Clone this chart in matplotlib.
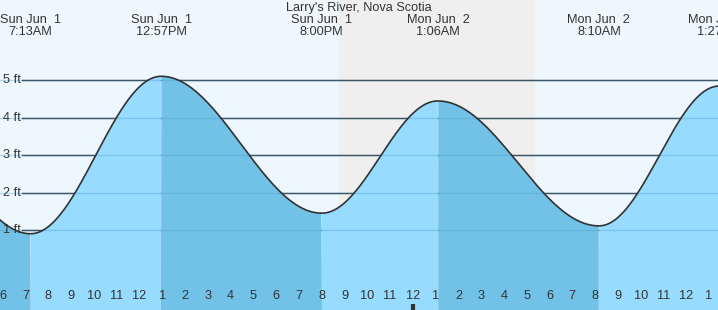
import numpy as np
import matplotlib.pyplot as plt
from matplotlib.transforms import blended_transform_factory

# tide extremes (hours since Jun 1 00:00, height in ft)
tide_hours = [0.85, 7.217, 12.95, 20.0, 25.1, 32.167, 37.45, 43.6]
tide_ft = [4.4, 0.9, 5.11, 1.45, 4.45, 1.11, 4.85, 1.2]
label_day = ["Sun Jun  1", "Sun Jun  1", "Sun Jun  1", "Mon Jun  2", "Mon Jun  2", "Mon Jun  2"]
label_time = ["7:13AM", "12:57PM", "8:00PM", "1:06AM", "8:10AM", "1:27PM"]
night = (20.77, 29.32)
grid_ft = [1, 2, 3, 4, 5]
hour_ticks = list(range(6, 38))

W, H = 718, 310
px_hr = 22.78
t_left = 13 - 162.3 / px_hr
t_right = t_left + W / px_hr
ft_px = 37.4
y0_px = 267.4
y_bot = (y0_px - H) / ft_px
y_top = y0_px / ft_px

fig = plt.figure(figsize=(W / 100, H / 100), dpi=100)
ax = fig.add_axes([0, 0, 1, 1])
ax.set_xlim(t_left, t_right)
ax.set_ylim(y_bot, y_top)
ax.set_facecolor('#eef7fe')
for s in ax.spines.values():
    s.set_visible(False)

plt.rcParams['font.family'] = ['Liberation Sans', 'DejaVu Sans']
txt = '#333333'
fs = 9.2

# night band
ax.axvspan(night[0], night[1], color='#efefef', zorder=0)

# curve: cosine shape between the extremes
t = np.linspace(t_left, t_right, 1500)
h = np.zeros_like(t)
falling = np.zeros_like(t, dtype=bool)
for i in range(len(tide_hours) - 1):
    a, b = tide_hours[i], tide_hours[i + 1]
    m = (t >= a) & (t <= b)
    f = (1 - np.cos(np.pi * (t[m] - a) / (b - a))) / 2
    h[m] = tide_ft[i] + (tide_ft[i + 1] - tide_ft[i]) * f
    falling[m] = tide_ft[i + 1] < tide_ft[i]

# grid lines
for g in grid_ft:
    ax.axhline(g, xmin=22 / W, xmax=1, color='#333333', lw=1.0, zorder=1)

ax.fill_between(t, y_bot, h, where=~falling, color='#97dcfe', lw=0, zorder=2, interpolate=True)
ax.fill_between(t, y_bot, h, where=falling, color='#72c1e6', lw=0, zorder=2, interpolate=True)
for g in grid_ft:
    ax.axhline(g, color='#4a9fd0', lw=1, alpha=0.35, zorder=3)
ax.plot(t, h, color='#333333', lw=1.2, zorder=4)

for g in grid_ft:
    ax.text(3 / W, g, f"{g} ft", transform=blended_transform_factory(ax.transAxes, ax.transData),
            ha='left', va='center', fontsize=fs, color=txt, zorder=5)

# top labels
ax.text(0.5, 1 - 8 / H, "Larry's River, Nova Scotia", transform=ax.transAxes,
        ha='center', va='center', fontsize=fs, color=txt)
tr = blended_transform_factory(ax.transData, ax.transAxes)
for th, d, tm in zip(tide_hours[1:7], label_day, label_time):
    ax.text(th, 1 - 20 / H, d, transform=tr, ha='center', va='center', fontsize=fs, color=txt)
    ax.text(th, 1 - 32 / H, tm, transform=tr, ha='center', va='center', fontsize=fs, color=txt)

# hour ticks
ax.set_xticks(hour_ticks)
ax.set_xticklabels([])
ax.set_yticks([])
ax.tick_params(axis='x', direction='in', length=5, width=1, color='#333333')
for tk in hour_ticks:
    lab = (tk - 1) % 12 + 1
    ax.text(tk, 1 - 296 / H, str(lab), transform=tr, ha='center', va='center',
            fontsize=fs, color=txt, zorder=5)
    if tk % 24 == 0:
        ax.vlines(tk, y_bot, y_bot + 6 / ft_px, color='#333333', lw=3, zorder=5)

fig.savefig('out.png', dpi=100)
